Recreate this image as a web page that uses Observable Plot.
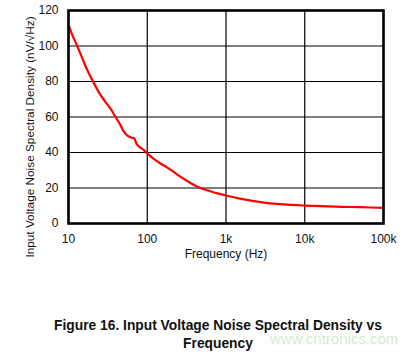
<!DOCTYPE html>
<html>
<head>
<meta charset="utf-8">
<script src="https://cdn.jsdelivr.net/npm/d3@7"></script>
<script src="https://cdn.jsdelivr.net/npm/@observablehq/plot@0.6"></script>
<style>
  html, body { margin: 0; padding: 0; background: #fff; }
  #wrap { position: relative; width: 408px; height: 354px; font-family: "Liberation Sans", Arial, sans-serif; }
  #caption { position: absolute; left: 0; top: 317px; width: 436px; text-align: center; font-weight: bold; font-size: 13.8px; line-height: 18px; color: #111; }
  #wm { position: absolute; left: 270px; top: 330px; font-size: 15px; color: rgba(150, 210, 140, 0.45); font-family: "Liberation Sans", Arial, sans-serif; }
</style>
</head>
<body>
<div id="wrap"><div id="chart"></div><div id="caption">Figure 16. Input Voltage Noise Spectral Density vs<br>Frequency</div><div id="wm">www.cntronics.com</div></div>
<script>
const frequency = [10, 11, 12.9, 15, 17.5, 20.5, 25, 30, 35, 39.5, 45, 50, 56, 62, 68, 73, 80, 90, 100, 120, 150, 180, 210, 260, 320, 400, 474, 600, 800, 1000, 1500, 2000, 3000, 4000, 6000, 10000, 20000, 40000, 70000, 100000];
const noise = [112, 107, 100, 93, 86, 80, 73, 68, 64, 60, 56, 52, 49.5, 48.5, 48, 45, 43, 41.5, 39.5, 36.5, 33.5, 31.5, 29.5, 26.5, 24, 21.5, 20, 18.5, 16.8, 15.8, 14, 13, 11.8, 11.2, 10.6, 10.1, 9.6, 9.3, 9.0, 8.8];
const xTicks = [10, 100, 1000, 10000, 100000];
const xTickLabels = ["10", "100", "1k", "10k", "100k"];
const yTicks = [0, 20, 40, 60, 80, 100, 120];
const xLabel = "Frequency (Hz)";
const yLabel = "Input Voltage Noise Spectral Density (nV/\u221AHz)";

const data = frequency.map((f, i) => ({f, v: noise[i]}));

const chart = Plot.plot({
  width: 408,
  height: 270,
  marginLeft: 68,
  marginRight: 25,
  marginTop: 10,
  marginBottom: 47,
  style: {fontFamily: "'Liberation Sans', Arial, sans-serif", fontSize: "12px", color: "#111", background: "#fff"},
  x: {type: "log", domain: [10, 100000]},
  y: {domain: [0, 120]},
  marks: [
    Plot.gridX(xTicks, {stroke: "#000", strokeOpacity: 1, strokeWidth: 1.2}),
    Plot.gridY(yTicks, {stroke: "#000", strokeOpacity: 1, strokeWidth: 1.2}),
    Plot.axisX(xTicks, {tickSize: 0, tickPadding: 11, tickFormat: (d) => xTickLabels[xTicks.indexOf(d)], label: null, fontSize: 12}),
    Plot.axisY(yTicks, {tickSize: 0, tickPadding: 10, label: null, fontSize: 12}),
    Plot.text([xLabel], {frameAnchor: "bottom", textAnchor: "middle", dy: 34, text: d => d, fontSize: 12}),
    Plot.text([yLabel], {frameAnchor: "left", textAnchor: "middle", rotate: -90, dx: -38, dy: 20, text: d => d, fontSize: 11.8}),
    Plot.line(data, {x: "f", y: "v", stroke: "#ff0000", strokeWidth: 2.2, curve: "monotone-x"}),
    Plot.frame({stroke: "#000", strokeWidth: 2.6})
  ]
});
document.getElementById("chart").appendChild(chart);
</script>
</body>
</html>
